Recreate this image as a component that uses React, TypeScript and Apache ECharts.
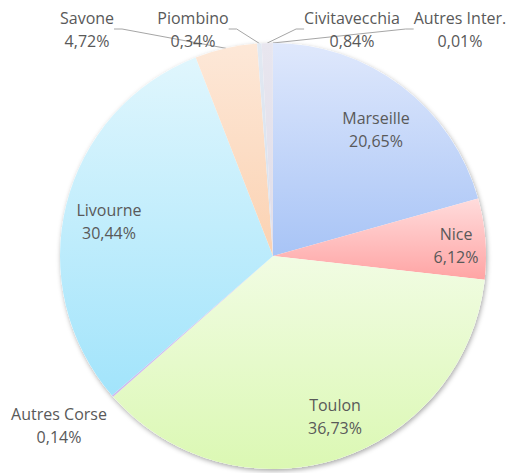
import React, { useEffect, useRef } from "react";
import * as echarts from "echarts";

const PORTS = [
  "Marseille",
  "Nice",
  "Toulon",
  "Autres Corse",
  "Livourne",
  "Savone",
  "Piombino",
  "Civitavecchia",
  "Autres Inter.",
];
const SHARES = [20.65, 6.12, 36.73, 0.14, 30.44, 4.72, 0.34, 0.84, 0.01];

const COLORS: [string, string][] = [
  ["#dfe8fc", "#a8c4f6"],
  ["#ffdcdc", "#ffa4a4"],
  ["#f1fce3", "#dbf8b3"],
  ["#d7c8f0", "#cdb9ee"],
  ["#e0f6fd", "#a2e4fb"],
  ["#fde8d8", "#fbd2b2"],
  ["#e2e9f2", "#d6e0ee"],
  ["#e8e6ef", "#e0dde9"],
  ["#e6e6e6", "#dddddd"],
];
// label centre positions (layout only)
const LABEL_POS: [number, number][] = [
  [376, 129],
  [456, 245],
  [335, 416],
  [59, 425],
  [109, 221],
  [87, 29],
  [193, 29],
  [352, 29],
  [460, 29],
];
const OUTSIDE = [false, false, false, true, false, true, true, true, true];
const SHOW_LINE = [false, false, false, false, false, true, true, true, true];

export default function App() {
  const ref = useRef<HTMLDivElement>(null);
  useEffect(() => {
    const chart = echarts.init(ref.current!, undefined, { renderer: "svg" });
    const fmt = (v: number) => v.toFixed(2).replace(".", ",") + "%";
    chart.setOption({
      animation: false,
      backgroundColor: "#ffffff",
      series: [
        {
          type: "pie",
          silent: true,
          center: [273, 256],
          radius: 213,
          label: { show: false },
          labelLine: { show: false },
          itemStyle: {
            color: "#ffffff",
            shadowBlur: 5,
            shadowColor: "rgba(0,0,0,0.35)",
            shadowOffsetX: 1,
            shadowOffsetY: 2,
          },
          data: [{ value: 1, name: "" }],
          z: 1,
        },
        {
          type: "pie",
          center: [273, 256],
          radius: 213,
          startAngle: 90,
          clockwise: true,
          avoidLabelOverlap: false,
          minAngle: 0,
          z: 2,
          data: PORTS.map((name, i) => ({
            name,
            value: SHARES[i],
            itemStyle: {
              color: new echarts.graphic.LinearGradient(0, 0, 0, 1, [
                { offset: 0, color: COLORS[i][0] },
                { offset: 1, color: COLORS[i][1] },
              ]),
            },
            label: { position: OUTSIDE[i] ? "outside" : "inside" },
            labelLine: { show: SHOW_LINE[i], length: 8, length2: 8 },
          })),
          label: {
            show: true,
            formatter: (p: any) => p.name + "\n" + fmt(p.value),
            fontFamily: "Open Sans",
            fontSize: 16,
            lineHeight: 23,
            color: "#595959",
            align: "center",
          },
          labelLine: {
            lineStyle: { color: "#a6a6a6", width: 1 },
          },
          labelLayout: (params: any) => {
            const p = LABEL_POS[params.dataIndex];
            return { x: p[0], y: p[1], align: "center", verticalAlign: "middle" };
          },
        },
      ],
    });
    return () => chart.dispose();
  }, []);
  return (
    <div
      ref={ref}
      style={{ position: "absolute", left: 0, top: 0, width: 509, height: 473 }}
    />
  );
}
